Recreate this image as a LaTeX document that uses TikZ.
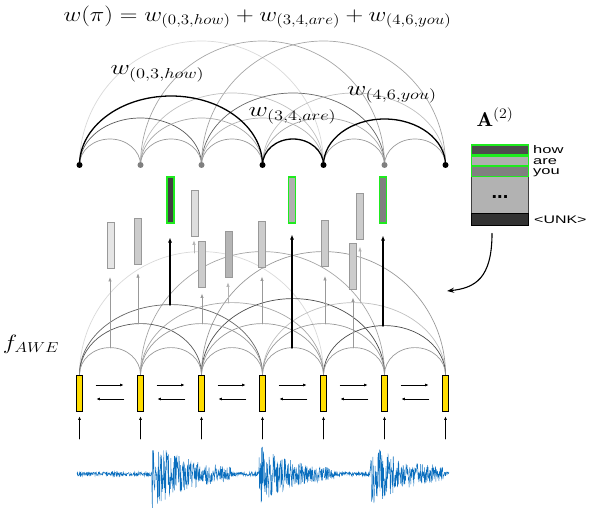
\documentclass[tikz,border=0pt]{standalone}
\usepackage{amsmath,amsfonts,amssymb}
\usepackage{graphicx}
\usepackage{fontspec}
\setsansfont{Liberation Sans}
\usepackage{xcolor}
\usetikzlibrary{arrows.meta,calc}
\DeclareMathSizes{20}{20}{15.6}{12}
\definecolor{awegold}{RGB}{255,221,0}
\definecolor{hitgreen}{RGB}{30,235,30}
\definecolor{wavblue}{RGB}{10,110,190}
\newcommand{\wide}[2][1.15]{\scalebox{#1}[1]{#2}}

\begin{document}
\begin{tikzpicture}[line cap=round,x=1pt,y=-1pt,
  lbl/.style={inner sep=0pt,font=\fontsize{20}{24}\selectfont},
  vocab/.style={inner sep=0pt,anchor=base west,font=\sffamily\fontsize{11}{11}\selectfont},
  latnode/.style={circle,inner sep=0pt,minimum size=6pt},
  awebox/.style={draw,fill=awegold,line width=0.8pt,minimum width=6pt,minimum height=36pt,inner sep=0pt},
  embbox/.style={draw=black!40,line width=0.9pt,minimum width=7pt,minimum height=46pt,inner sep=0pt},
  hitbox/.style={embbox,draw=hitgreen,line width=1.1pt},
  mrow/.style={draw=hitgreen,line width=1.3pt,minimum width=57pt,minimum height=10pt,inner sep=0pt},
  seg/.style={line width=0.7pt},
  segbold/.style={line width=1.3pt,black},
  upfeat/.style={-{Latex[length=4.5pt,width=3.5pt]},black!40,line width=0.8pt},
  upfaint/.style={upfeat,black!30,line width=0.6pt},
  upbold/.style={-{Latex[length=5pt,width=4pt]},black,line width=1.4pt},
  rnn/.style={-{Latex[length=3.5pt,width=3pt]},line width=0.9pt}]
\useasboundingbox (0,0) rectangle (592,508);

% segment lattice on top
\foreach \i in {0,...,6}
  \coordinate (t\i) at (79.5+61*\i,165);
\foreach \i/\j/\h/\st in {0/4/124/black!15,1/5/124/black!35,2/6/124/black!35,
    1/4/72/black!25,2/5/72/black!60,3/6/72/black!25,
    0/2/47/black!65,1/3/47/black!35,2/4/47/black!30,3/5/47/black!35,
    0/1/26/black!40,1/2/26/black!40,2/3/26/black!40,4/5/26/black!40,5/6/26/black!40,
    0/3/69/segbold,3/4/26/segbold,4/6/46/segbold}
  \draw[seg,\st] (t\i) .. controls +(0,{-0.5523*\h}) and +({-16.85*(\j-\i)},0)
    .. ($(t\i)!.5!(t\j)+(0,-\h)$) .. controls +({16.85*(\j-\i)},0) and +(0,{-0.5523*\h}) .. (t\j);
\foreach \i/\c in {0/black,1/black!50,2/black!50,3/black,4/black,5/black!50,6/black}
  \node[latnode,fill=\c] (d\i) at (t\i) {};

% acoustic word embeddings
\foreach \i in {0,...,6}
  \node[awebox] (b\i) at (79.5+61*\i,393) {};
\foreach \i/\j/\h/\st in {0/4/123/black!15,1/5/123/black!35,2/6/123/black!40,
    0/3/70/black!60,1/4/72/black!35,2/5/76/black!70,3/6/72/black!25,
    0/2/51/black!65,1/3/51/black!40,2/4/51/black!40,3/5/51/black!40,4/6/49/black!70,
    0/1/27/black!40,1/2/27/black!40,2/3/27/black!40,3/4/27/black!40,4/5/27/black!40,5/6/27/black!40}
  \draw[seg,\st] (b\i.north) .. controls +(0,{-0.5523*\h}) and +({-16.85*(\j-\i)},0)
    .. ($(b\i.north)!.5!(b\j.north)+(0,-\h)$) .. controls +({16.85*(\j-\i)},0) and +(0,{-0.5523*\h}) .. (b\j.north);

% segment features
\foreach \k/\xe/\ye/\c/\st in {1/110.7/245.5/black!10/embbox,2/137.5/241.7/black!20/embbox,
    3/170.5/200/black!75/hitbox,4/195.2/213/black!13/embbox,5/201.5/264/black!20/embbox,
    6/228.5/254/black!29/embbox,7/261.5/244/black!20/embbox,8/292/200/black!31/hitbox,
    9/324.5/243.5/black!20/embbox,10/352.5/266/black!20/embbox,11/359.5/216.5/black!20/embbox,
    12/383/200/black!50/hitbox}
  \node[\st,fill=\c] (e\k) at (\xe,\ye) {};
\foreach \k/\xa/\ya/\gap/\st in {1/110/348/8/upfeat,2/138/324/8/upfeat,3/170/305/14/upbold,
    4/194/253/4/upfaint,5/202/324/6/upfeat,6/228/303/5/upfaint,7/262/324/9/upfeat,
    8/292/348/11/upbold,9/325/324/9/upfeat,10/353/348/8/upfeat,11/360/303/7/upfaint,
    12/383/326/12/upbold}{
  \coordinate (p\k) at (\xa,\ya);
  \draw[\st,shorten >=\gap pt] (p\k) -- (p\k |- e\k.south);
}

% bidirectional rnn
\foreach \i [evaluate=\i as \j using int(\i+1)] in {0,...,5}{
  \draw[rnn] ([shift={(13.5,-8)}]b\i.east) -- ([shift={(-13.5,-8)}]b\j.west);
  \draw[rnn] ([shift={(-13.5,6)}]b\j.west) -- ([shift={(13.5,6)}]b\i.east);
}
\foreach \i in {0,...,6}{
  \coordinate (s\i) at (79.5+61*\i,439);
  \draw[rnn,shorten >=5pt] (s\i) -- (b\i);
}

% waveform
\pgfmathsetseed{42}
\draw[wavblue,line width=0.4pt] plot[domain=77:449,samples=1300]
  (\x,{474+rand*(2+33*exp(-max(\x-152,0)/42)*(\x>152)*(\x<232)+28*exp(-max(\x-259,0)/38)*(\x>259)*(\x<334)+30*exp(-max(\x-372,0)/40)*(\x>370)*(\x<443))});

% lexicon matrix
\node[draw=black!75,fill=black!30,line width=0.9pt,minimum width=57pt,minimum height=36.6pt,inner sep=0pt] (body) at (500,195) {};
\node[mrow,fill=black!70] (rhow) at (500,150) {};
\node[mrow,fill=black!31] (rare) at (500,160.9) {};
\node[mrow,fill=black!50] (ryou) at (500,171.7) {};
\node[draw=black,fill=black!80,line width=0.9pt,minimum width=57pt,minimum height=11.7pt,inner sep=0pt] (runk) at (500,219.2) {};
\node[inner sep=0pt,font=\sffamily\bfseries\fontsize{20}{20}\selectfont] (dots) at (500,197) {...};
\node[vocab] (lhow) at (533,153.3) {\wide[1.5]{how}};
\node[vocab] (lare) at (533,164.3) {\wide[1.5]{are}};
\node[vocab] (lyou) at (533,174.5) {\wide[1.5]{you}};
\node[vocab] (lunk) at (534,223) {\wide[1.45]{<UNK>}};
\coordinate (mout) at ([shift={(-8,8)}]runk.south);
\coordinate (latin) at (447,291);
\draw[-{Stealth[length=7pt,width=5pt]},line width=1.1pt] (mout) .. controls +(0,45) and +(28,-3) .. (latin);

% labels
\node[lbl] (wpi) at (257.5,17) {\wide[1.18]{$w(\pi) = w_{(0,3,how)} + w_{(3,4,are)} + w_{(4,6,you)}$}};
\node[lbl] (whow) at (157.5,74) {\wide[1.28]{$w_{(0,3,how)}$}};
\node[lbl] (ware) at (292.5,116) {\wide[1.28]{$w_{(3,4,are)}$}};
\node[lbl] (wyou) at (392,95) {\wide[1.28]{$w_{(4,6,you)}$}};
\node[lbl] (fawe) at (31,344) {\wide[1.18]{$f_{AWE}$}};
\node[lbl] (amat) at (495,117) {\wide[1.1]{$\mathbf{A}^{(2)}$}};
\end{tikzpicture}
\end{document}
